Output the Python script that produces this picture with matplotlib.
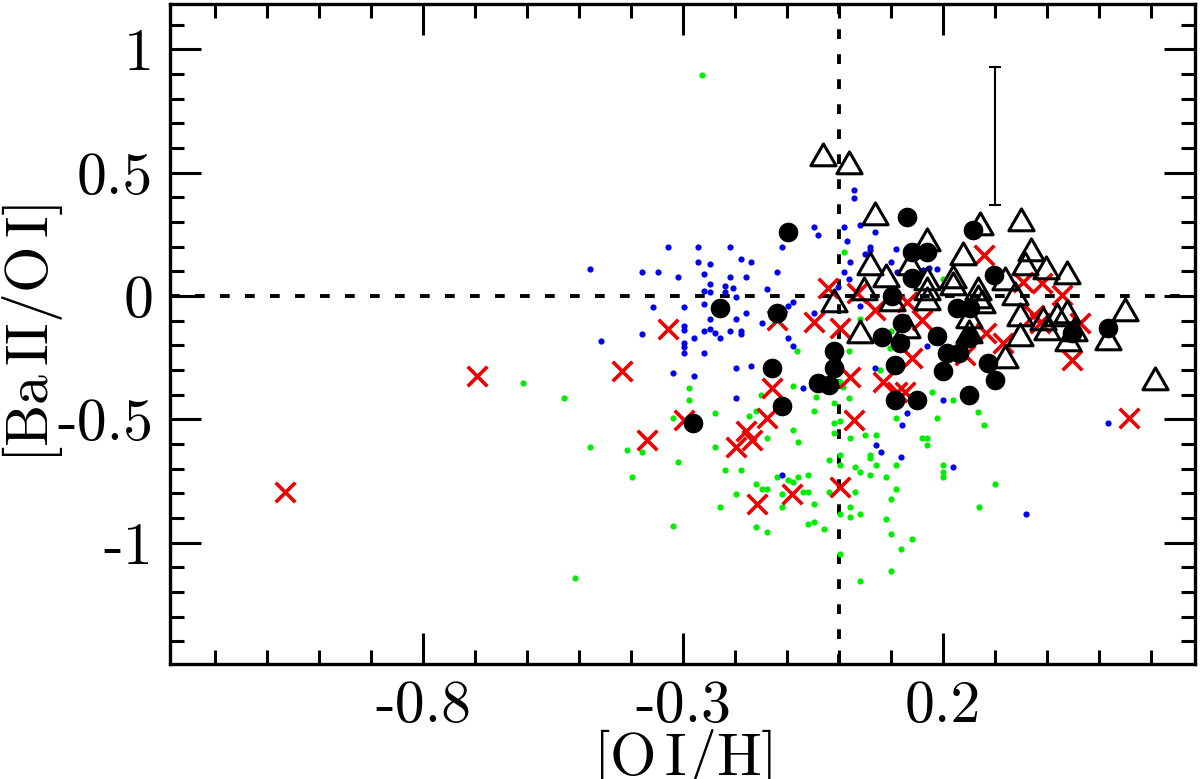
import numpy as np
import matplotlib
matplotlib.use("Agg")
from matplotlib import pyplot as plt
from matplotlib.path import Path
from matplotlib.ticker import MultipleLocator, FixedLocator, FixedFormatter

plt.rcParams['font.family'] = 'serif'
plt.rcParams['font.serif'] = ['cmr10', 'DejaVu Serif']
plt.rcParams['mathtext.fontset'] = 'cm'
plt.rcParams['axes.unicode_minus'] = False
plt.rcParams['lines.scale_dashes'] = False

# green dots
green_x = [-0.264, -0.608, -0.528, -0.288, -0.288, -0.319, -0.479, -0.408, -0.378, -0.309,
           -0.399, -0.319, -0.508, 0.010, -0.080, 0.040, 0.100, 0.020, 0.098, 0.079,
           -0.089, 0.001, 0.008, -0.044, -0.150, 0.179, 0.020, 0.199, 0.220, 0.268,
           0.110, 0.189, 0.279, -0.238, -0.009, -0.049, -0.160, -0.174, -0.009, 0.001,
           -0.089, -0.009, -0.139, 0.021, 0.050, 0.071, -0.079, -0.238, 0.160, 0.170,
           0.170, 0.001, -0.019, 0.060, 0.060, 0.071, 0.001, 0.031, 0.040, 0.060,
           0.090, 0.110, 0.199, 0.199, 0.199, -0.219, -0.189, -0.119, -0.099, -0.089,
           -0.079, -0.059, -0.160, -0.149, -0.139, -0.199, -0.109, -0.069, -0.059, -0.019,
           0.031, 0.110, 0.100, 0.299, -0.229, -0.109, -0.049, 0.021, 0.021, 0.001,
           0.040, 0.090, 0.270, -0.059, -0.049, -0.029, -0.160, -0.139, 0.100, 0.140,
           0.119, 0.001, 0.100, 0.040]
green_y = [0.896, -0.353, -0.412, -0.372, -0.423, -0.493, -0.613, -0.624, -0.634, -0.673,
           -0.734, -0.934, -1.144, 0.180, -0.222, -0.094, -0.142, -0.222, -0.212, -0.300,
           -0.365, -0.347, -0.368, -0.408, -0.401, -0.390, -0.415, 0.068, -0.422, -0.471,
           -0.496, -0.493, -0.523, -0.473, -0.433, -0.465, -0.465, -0.486, -0.514, -0.505,
           -0.543, -0.554, -0.574, -0.574, -0.563, -0.563, -0.593, -0.613, -0.574, -0.574,
           -0.604, -0.645, -0.665, -0.645, -0.658, -0.685, -0.685, -0.694, -0.715, -0.726,
           -0.735, -0.685, -0.685, -0.712, -0.735, -0.705, -0.705, -0.735, -0.746, -0.755,
           -0.735, -0.726, -0.763, -0.784, -0.784, -0.804, -0.804, -0.793, -0.793, -0.793,
           -0.793, -0.784, -0.824, -0.763, -0.854, -0.854, -0.844, -0.854, -0.895, -0.885,
           -0.885, -0.904, -0.854, -0.924, -0.915, -0.944, -0.935, -0.955, -0.965, -0.985,
           -1.026, -1.046, -1.115, -1.155]

# blue dots
blue_x = [-0.329, -0.271, -0.271, -0.479, -0.378, -0.349, -0.309, -0.358, -0.299, -0.299,
          -0.299, -0.378, -0.279, -0.458, -0.299, -0.299, -0.299, -0.319, -0.279, 0.029,
          0.029, -0.049, -0.040, 0.010, 0.040, 0.069, 0.015, -0.209, -0.109, 0.060,
          0.060, -0.189, -0.169, -0.248, 0.050, 0.109, 0.021, 0.100, -0.260, -0.209,
          -0.179, -0.120, 0.010, 0.111, 0.020, -0.249, -0.259, -0.249, -0.219, -0.203,
          -0.219, -0.199, -0.139, -0.003, -0.260, -0.089, -0.099, -0.179, -0.199, -0.249,
          -0.149, -0.049, 0.040, -0.260, -0.248, -0.238, -0.229, -0.209, -0.189, -0.189,
          -0.099, -0.089, -0.260, -0.199, -0.169, 0.170, 0.069, -0.069, -0.199, 0.162,
          0.172, 0.189, 0.199, 0.130, 0.121, 0.518, 0.071, 0.080, 0.119, -0.109,
          0.220, 0.359]
blue_y = [0.200, 0.200, 0.139, 0.108, 0.098, 0.098, 0.078, -0.043, -0.043, -0.120,
          -0.136, -0.153, -0.171, -0.182, -0.191, -0.205, -0.232, -0.313, -0.323, 0.430,
          0.398, 0.278, 0.247, 0.278, 0.288, 0.261, 0.224, 0.200, 0.200, 0.200,
          0.186, 0.150, 0.139, 0.130, 0.169, 0.191, 0.139, 0.139, 0.088, 0.078,
          0.078, 0.098, 0.098, 0.098, 0.068, 0.049, 0.021, 0.017, 0.041, 0.034,
          0.017, -0.003, 0.028, 0.038, -0.032, -0.023, -0.039, -0.070, -0.093, -0.093,
          -0.111, -0.070, -0.039, -0.142, -0.134, -0.151, -0.171, -0.142, -0.142, -0.155,
          -0.171, -0.203, -0.232, -0.293, -0.284, -0.201, -0.293, -0.372, -0.412, 0.105,
          0.112, 0.108, -0.422, -0.473, -0.523, -0.514, -0.604, -0.634, -0.654, -0.726,
          -0.694, -0.884]

# red crosses
red_x = [-0.697, -1.065, -0.418, -0.329, -0.370, -0.299, -0.021, -0.049, 0.001, 0.069,
         0.130, 0.159, 0.140, 0.021, 0.085, -0.129, 0.127, -0.120, 0.034, 0.279,
         0.354, 0.390, 0.428, 0.374, 0.463, 0.283, 0.316, 0.242, 0.448, 0.111,
         0.558, 0.387, -0.139, -0.179, -0.168, -0.199, 0.029, 0.001, -0.090, -0.158]
red_y = [-0.324, -0.793, -0.303, -0.133, -0.584, -0.503, 0.031, -0.104, -0.131, -0.057,
         -0.023, -0.097, -0.253, -0.327, -0.347, -0.374, -0.389, -0.097, 0.011, 0.166,
         0.058, 0.051, 0.004, -0.077, -0.111, -0.151, -0.192, -0.239, -0.259, -0.388,
         -0.496, -0.111, -0.493, -0.546, -0.584, -0.613, -0.503, -0.773, -0.804, -0.843]

# black filled circles
circ_x = [0.130, -0.099, 0.258, -0.229, -0.120, 0.140, 0.169, 0.140, 0.297, 0.101,
          0.226, 0.252, 0.121, 0.082, 0.117, 0.189, 0.249, 0.207, 0.231, 0.287,
          0.108, 0.199, 0.300, 0.448, 0.518, 0.249, 0.108, 0.149, -0.010, -0.010,
          -0.129, -0.040, -0.019, -0.280, -0.109]
circ_y = [0.320, 0.259, 0.268, -0.050, -0.070, 0.180, 0.180, 0.072, 0.085, 0.000,
          -0.050, -0.050, -0.111, -0.166, -0.192, -0.162, -0.171, -0.232, -0.232, -0.270,
          -0.280, -0.304, -0.340, -0.151, -0.131, -0.401, -0.422, -0.422, -0.222, -0.293,
          -0.293, -0.351, -0.361, -0.514, -0.445]

# open triangles
tri_x = [-0.030, 0.020, 0.069, 0.271, 0.349, 0.170, 0.239, 0.369, 0.060, 0.090,
         0.137, 0.048, -0.009, 0.101, 0.040, 0.130, 0.169, 0.169, 0.169, 0.220,
         0.220, 0.268, 0.268, 0.274, 0.319, 0.358, 0.398, 0.438, 0.338, 0.249,
         0.249, 0.348, 0.348, 0.393, 0.399, 0.419, 0.438, 0.441, 0.451, 0.518,
         0.549, 0.319, 0.608]
tri_y = [0.558, 0.527, 0.319, 0.281, 0.297, 0.214, 0.159, 0.173, 0.119, 0.068,
         0.119, 0.017, -0.032, -0.030, -0.158, -0.138, 0.057, 0.016, -0.024, 0.065,
         0.036, 0.017, -0.016, -0.036, 0.058, 0.119, 0.103, 0.081, -0.003, -0.097,
         -0.158, -0.090, -0.171, -0.104, -0.145, -0.090, -0.077, -0.192, -0.151, -0.185,
         -0.070, -0.259, -0.347]

# typical error bar
err_x = [0.3]
err_y = [0.65]
err_dy = [0.28]

x_major = [-0.8, -0.3, 0.2]
x_labels = ['-0.8', '-0.3', '0.2']
y_major = [-1, -0.5, 0, 0.5, 1]
y_labels = ['-1', '-0.5', '0', '0.5', '1']

fig = plt.figure(figsize=(12, 7.79), dpi=100)
ax = fig.add_axes([0.1417, 0.1476, 0.8542, 0.8472])

ax.axhline(0, color='black', lw=2.8, ls=(0, (7, 11)), zorder=1)
ax.axvline(0, color='black', lw=2.8, ls=(0, (7, 11)), zorder=1)

ax.scatter(green_x, green_y, s=20, c='#00ee00', linewidths=0, zorder=2)
ax.scatter(blue_x, blue_y, s=20, c='#0000ee', linewidths=0, zorder=2)
ax.scatter(red_x, red_y, s=200, marker='x', c='#ee0000', linewidths=2.6, zorder=3)
ax.scatter(circ_x, circ_y, s=200, c='black', linewidths=0, zorder=4)

# equilateral open triangle, closed path
tri = Path([(-1, -0.577), (1, -0.577), (0, 1.155), (-1, -0.577)],
           [Path.MOVETO, Path.LINETO, Path.LINETO, Path.CLOSEPOLY])
ax.plot(tri_x, tri_y, ls='none', marker=tri, markersize=21, mfc='none',
        mec='black', mew=2.2, zorder=5)

ax.errorbar(err_x, err_y, yerr=err_dy, fmt='none', ecolor='black',
            elinewidth=1.5, capsize=4, capthick=1.5, zorder=5)

ax.set_xlim(-1.2865, 0.6846)
ax.set_ylim(-1.4917, 1.1836)

ax.xaxis.set_major_locator(FixedLocator(x_major))
ax.xaxis.set_major_formatter(FixedFormatter(x_labels))
ax.xaxis.set_minor_locator(MultipleLocator(0.1))
ax.yaxis.set_major_locator(FixedLocator(y_major))
ax.yaxis.set_major_formatter(FixedFormatter(y_labels))
ax.yaxis.set_minor_locator(MultipleLocator(0.1))

ax.tick_params(which='both', direction='in', top=True, right=True, width=2.2)
ax.tick_params(which='major', length=22, labelsize=43, pad=12)
ax.tick_params(which='minor', length=10)
for sp in ax.spines.values():
    sp.set_linewidth(2.4)

ax.set_xlabel(r'$[\mathrm{O\,I/H}]$', fontsize=43)
ax.set_ylabel(r'$[\mathrm{Ba\,II/O\,I}]$', fontsize=43)
ax.xaxis.set_label_coords(0.5, -0.095)
ax.yaxis.set_label_coords(-0.1024, 0.5)

fig.savefig('out.png', dpi=100)
